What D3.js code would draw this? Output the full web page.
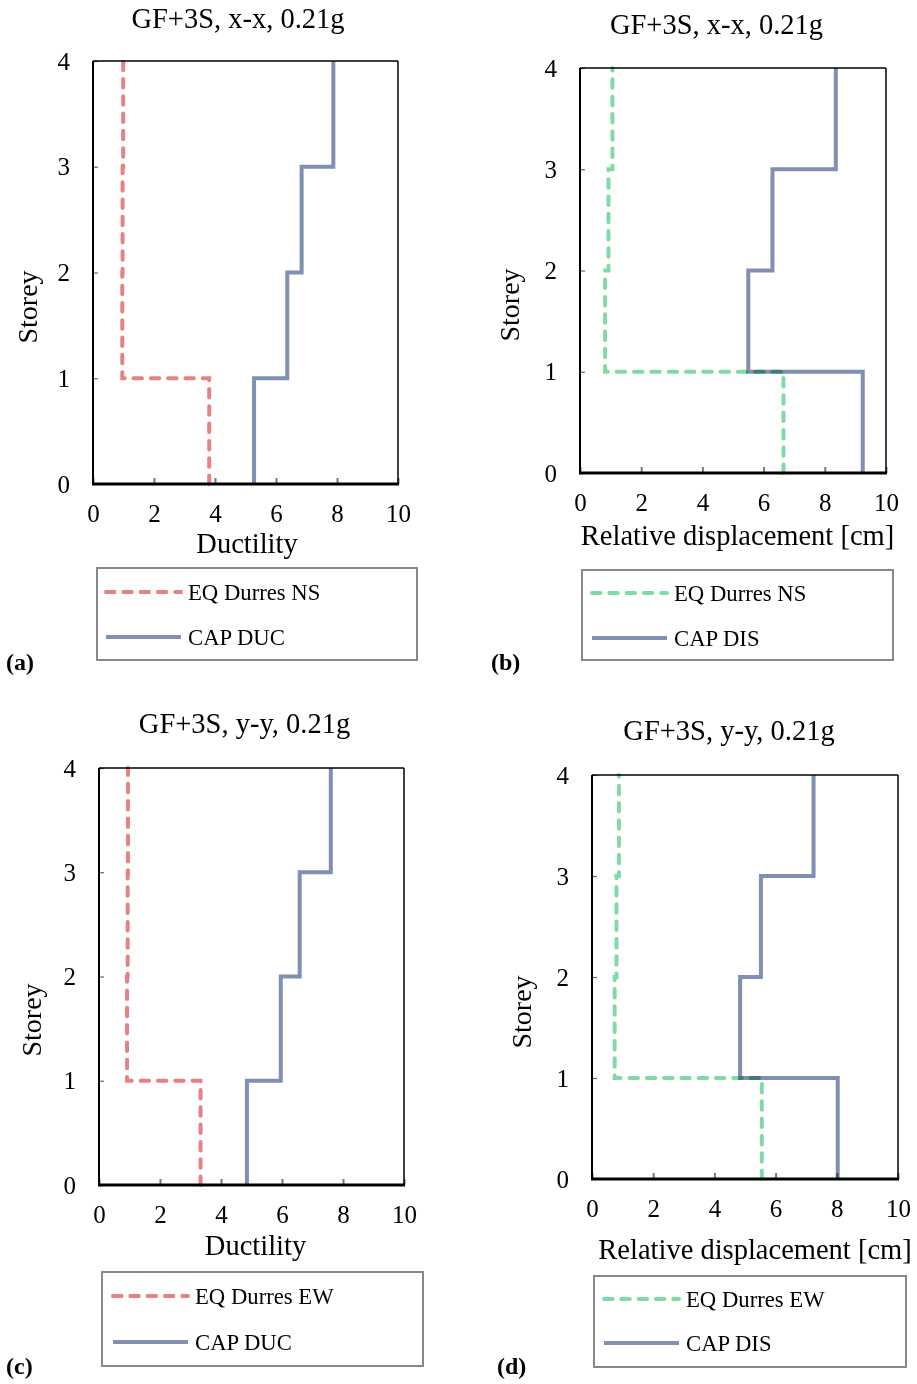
<!DOCTYPE html>
<html>
<head>
<meta charset="utf-8">
<script src="https://cdn.jsdelivr.net/npm/d3@7"></script>
<style>
  body { margin: 0; background: #fff; }
  text { font-family: "Liberation Serif", "Times New Roman", serif; fill: #000; }
</style>
</head>
<body>
<div id="chart"></div>
<script>
// storey levels and tick labels
var storeys = [0, 1, 2, 3, 4];
var xTicks = [0, 2, 4, 6, 8, 10];

// values per storey (ground -> 1, 1 -> 2, 2 -> 3, 3 -> 4)
var eqNsDuc = [3.81, 0.96, 0.97, 0.99];
var capDucX = [5.28, 6.37, 6.84, 7.88];
var eqNsDis = [6.65, 0.82, 0.93, 1.06];
var capDisX = [9.24, 5.50, 6.29, 8.36];
var eqEwDuc = [3.33, 0.92, 0.94, 0.95];
var capDucY = [4.85, 5.96, 6.58, 7.60];
var eqEwDis = [5.55, 0.74, 0.80, 0.88];
var capDisY = [8.03, 4.84, 5.52, 7.24];

var titles = ["GF+3S, x-x, 0.21g", "GF+3S, x-x, 0.21g", "GF+3S, y-y, 0.21g", "GF+3S, y-y, 0.21g"];
var xTitles = ["Ductility", "Relative displacement [cm]", "Ductility", "Relative displacement [cm]"];
var eqNames = ["EQ Durres NS", "EQ Durres NS", "EQ Durres EW", "EQ Durres EW"];
var capNames = ["CAP DUC", "CAP DIS", "CAP DUC", "CAP DIS"];
var panelLabels = ["(a)", "(b)", "(c)", "(d)"];

var red = "#e68282", green = "#80daa6", slate = "#7f90b2";

var panels = [
  {eq: eqNsDuc, cap: capDucX, eqColor: red,
   l: 93, r: 398, t: 61, b: 484, titleX: 238, titleY: 28, xTitleX: 247, xTitleDy: 69, yTitleX: 37, yTitleY: 307,
   leg: {x: 97, y: 568, w: 320, h: 92, lx: 106, row1: 592, row2: 637}, labX: 6, labY: 670},
  {eq: eqNsDis, cap: capDisX, eqColor: green,
   l: 580, r: 886, t: 68, b: 473, titleX: 716.5, titleY: 34, xTitleX: 737.5, xTitleDy: 72, yTitleX: 519, yTitleY: 305,
   leg: {x: 582, y: 570, w: 311, h: 90, lx: 592, row1: 593, row2: 638}, labX: 491, labY: 670},
  {eq: eqEwDuc, cap: capDucY, eqColor: red,
   l: 99, r: 404, t: 768, b: 1185, titleX: 244.5, titleY: 733, xTitleX: 255.5, xTitleDy: 70, yTitleX: 41, yTitleY: 1020,
   leg: {x: 102, y: 1272, w: 321, h: 94, lx: 113, row1: 1296, row2: 1342}, labX: 6, labY: 1374},
  {eq: eqEwDis, cap: capDisY, eqColor: green,
   l: 592, r: 898, t: 775, b: 1179, titleX: 729, titleY: 740, xTitleX: 755, xTitleDy: 80, yTitleX: 531, yTitleY: 1012,
   leg: {x: 594, y: 1276, w: 312, h: 91, lx: 604, row1: 1299, row2: 1343}, labX: 497, labY: 1374}
];

var svg = d3.select("#chart").append("svg").attr("width", 917).attr("height", 1384);

function stepPoints(vals) {
  var pts = [];
  vals.forEach(function (v, i) {
    pts.push([v, storeys[i]]);
    pts.push([v, storeys[i + 1]]);
  });
  return pts;
}

panels.forEach(function (p, k) {
  var x = d3.scaleLinear().domain([0, 10]).range([p.l, p.r]);
  var y = d3.scaleLinear().domain([0, 4]).range([p.b, p.t]);
  var g = svg.append("g");

  // title
  g.append("text")
    .attr("x", p.titleX).attr("y", p.titleY)
    .attr("text-anchor", "middle").style("font-size", "28.5px")
    .text(titles[k]);

  // axes
  var xa = g.append("g").attr("transform", "translate(0," + p.b + ")")
    .call(d3.axisBottom(x).tickValues(xTicks).tickSize(-6).tickPadding(20));
  xa.select(".domain").remove();
  xa.selectAll(".tick line").attr("stroke", "#777").attr("stroke-width", 2);
  xa.selectAll("text").style("font-size", "25px").attr("font-family", null);

  var ya = g.append("g").attr("transform", "translate(" + p.l + ",0)")
    .call(d3.axisLeft(y).tickValues(storeys).tickFormat(d3.format("d")).tickSize(-5).tickPadding(23));
  ya.select(".domain").remove();
  ya.selectAll(".tick line").attr("stroke", "#666").attr("stroke-width", 1.2);
  ya.selectAll("text").style("font-size", "25px").attr("font-family", null);

  // frame
  g.append("line").attr("x1", p.l).attr("x2", p.r).attr("y1", p.t).attr("y2", p.t)
    .attr("stroke", "#000").attr("stroke-width", 1.5);
  g.append("line").attr("x1", p.r).attr("x2", p.r).attr("y1", p.t).attr("y2", p.b)
    .attr("stroke", "#000").attr("stroke-width", 1.5);
  g.append("line").attr("x1", p.l).attr("x2", p.l).attr("y1", p.t).attr("y2", p.b)
    .attr("stroke", "#000").attr("stroke-width", 2);
  g.append("line").attr("x1", p.l - 1).attr("x2", p.r + 1).attr("y1", p.b).attr("y2", p.b)
    .attr("stroke", "#000").attr("stroke-width", 3);

  // series
  var line = d3.line().x(function (d) { return x(d[0]); }).y(function (d) { return y(d[1]); });
  g.append("path").datum(stepPoints(p.eq))
    .attr("d", line).attr("fill", "none")
    .attr("stroke", p.eqColor).attr("stroke-width", 4)
    .attr("stroke-dasharray", "8.5,8.8").attr("stroke-linecap", "round")
    .style("mix-blend-mode", "multiply");
  g.append("path").datum(stepPoints(p.cap))
    .attr("d", line).attr("fill", "none")
    .attr("stroke", slate).attr("stroke-width", 4)
    .style("mix-blend-mode", "multiply");

  // axis titles
  g.append("text")
    .attr("x", p.xTitleX).attr("y", p.b + p.xTitleDy)
    .attr("text-anchor", "middle").style("font-size", "28.5px")
    .text(xTitles[k]);
  g.append("text")
    .attr("transform", "translate(" + p.yTitleX + "," + p.yTitleY + ") rotate(-90)")
    .attr("text-anchor", "middle").style("font-size", "28px")
    .text("Storey");

  // legend
  var lg = p.leg;
  g.append("rect").attr("x", lg.x).attr("y", lg.y).attr("width", lg.w).attr("height", lg.h)
    .attr("fill", "none").attr("stroke", "#888").attr("stroke-width", 2);
  g.append("line").attr("x1", lg.lx).attr("x2", lg.lx + 75).attr("y1", lg.row1).attr("y2", lg.row1)
    .attr("stroke", p.eqColor).attr("stroke-width", 4)
    .attr("stroke-dasharray", "8.5,8.8").attr("stroke-linecap", "round");
  g.append("line").attr("x1", lg.lx).attr("x2", lg.lx + 75).attr("y1", lg.row2).attr("y2", lg.row2)
    .attr("stroke", slate).attr("stroke-width", 4);
  g.append("text").attr("x", lg.lx + 82).attr("y", lg.row1 + 8)
    .style("font-size", "22.7px").text(eqNames[k]);
  g.append("text").attr("x", lg.lx + 82).attr("y", lg.row2 + 8)
    .style("font-size", "22.7px").text(capNames[k]);

  // panel label
  g.append("text").attr("x", p.labX).attr("y", p.labY)
    .style("font-size", "24px").style("font-weight", "bold")
    .text(panelLabels[k]);
});
</script>
</body>
</html>
